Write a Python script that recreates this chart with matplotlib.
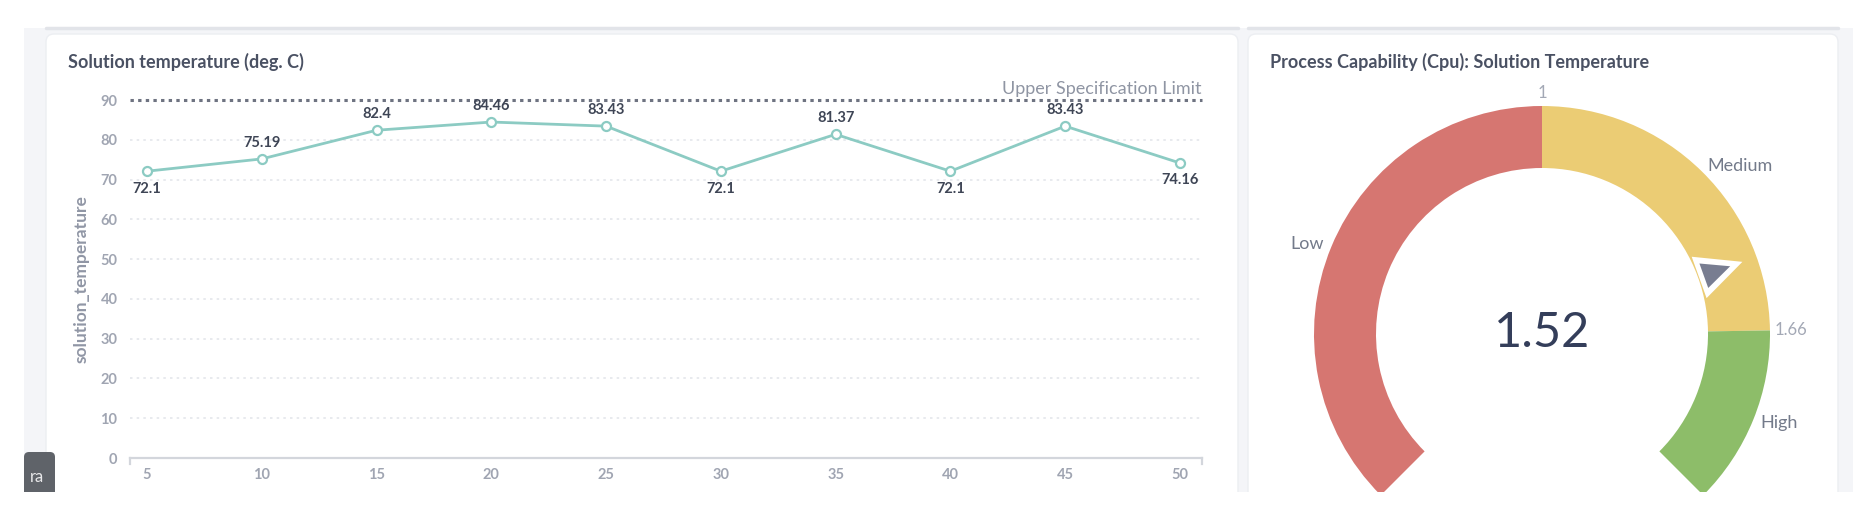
import numpy as np
import matplotlib
matplotlib.use("Agg")
import matplotlib.pyplot as plt
from matplotlib.patches import FancyBboxPatch, Wedge, Polygon, Rectangle

plt.rcParams['font.family'] = ['Lato', 'DejaVu Sans']

# ---------------- data ----------------
x_vals = [5, 10, 15, 20, 25, 30, 35, 40, 45, 50]
temps = [72.1, 75.19, 82.4, 84.46, 83.43, 72.1, 81.37, 72.1, 83.43, 74.16]
y_ticks = [0, 10, 20, 30, 40, 50, 60, 70, 80, 90]
usl = 90
usl_label = "Upper Specification Limit"
line_title = "Solution temperature (deg. C)"
y_label = "solution_temperature"

gauge_title = "Process Capability (Cpu): Solution Temperature"
gauge_value = 1.52
gauge_min, gauge_max = 0, 2
gauge_bounds = [0, 1, 1.66, 2]
gauge_names = ["Low", "Medium", "High"]
gauge_colors = ["#d67671", "#ebcc74", "#8dbd69"]

# ---------------- figure ----------------
W, H = 1870, 512
fig = plt.figure(figsize=(W / 100, H / 100), dpi=100)
fig.patch.set_facecolor("white")

bg = fig.add_axes([0, 0, 1, 1])
bg.set_xlim(0, W)
bg.set_ylim(H, 0)
bg.axis("off")

# page background and cards
bg.add_patch(Rectangle((24, 28), 1853 - 24, 492 - 28, fc="#f4f5f8", ec="none"))
bg.plot([46, 1238], [28, 28], color="#e2e4e9", lw=2.5, solid_capstyle="round")
bg.plot([1248, 1838], [28, 28], color="#e2e4e9", lw=2.5, solid_capstyle="round")
for (x0, x1) in [(46, 1238), (1248, 1838)]:
    bg.add_patch(FancyBboxPatch((x0, 34), x1 - x0, 492 - 34 + 20,
                                boxstyle="round,pad=0,rounding_size=8",
                                fc="white", ec="#eceef2", lw=1))
# small dark tab bottom-left
bg.add_patch(FancyBboxPatch((24, 452), 31, 50, boxstyle="round,pad=0,rounding_size=5",
                            fc="#5f6369", ec="none"))
bg.text(37, 477, "ra", color="#e8e8ea", fontsize=12, ha="center", va="center")
# white strip at bottom
bg.add_patch(Rectangle((0, 492), W, 20, fc="white", ec="none", zorder=5))

# titles
bg.text(68, 62, line_title, fontsize=13, fontweight="bold", color="#4a5163", va="center")
bg.text(1270, 62, gauge_title, fontsize=13, fontweight="bold", color="#4a5163", va="center")

# ---------------- line chart ----------------
line_c = "#8ccbc3"
ax = fig.add_axes([130 / W, (H - 458) / H, (1202 - 130) / W, (458 - 100) / H])
ax.patch.set_alpha(0)
ax.set_xlim(4.26, 50.96)
ax.set_ylim(0, 90)
for s in ["top", "right", "left"]:
    ax.spines[s].set_visible(False)
ax.spines["bottom"].set_color("#d3d6dc")
ax.spines["bottom"].set_linewidth(1.6)
ax.plot([0, 0], [0, -0.016], transform=ax.transAxes, color="#d3d6dc", lw=1.6, clip_on=False)
ax.plot([1, 1], [0, -0.016], transform=ax.transAxes, color="#d3d6dc", lw=1.6, clip_on=False)

ax.set_yticks(y_ticks)
ax.set_xticks(x_vals)
ax.set_xticklabels([str(v) for v in x_vals])
ax.tick_params(axis="both", length=0, labelsize=10.5, labelcolor="#a0a5b2")
ax.tick_params(axis="x", pad=7)
ax.tick_params(axis="y", pad=9)
for lab in ax.get_xticklabels() + ax.get_yticklabels():
    lab.set_fontweight("bold")

for yv in y_ticks[1:-1]:
    ax.axhline(yv, color="#e4e6eb", lw=1.2, ls=(0, (1.5, 2.5)), zorder=1)

ax.axhline(usl, color="#6e7381", lw=2.2, ls=(0, (1.1, 1.4)), zorder=3, clip_on=False)
ax.annotate(usl_label, xy=(1, usl), xycoords=("axes fraction", "data"),
            xytext=(0, 4.5), textcoords="offset points", ha="right", va="baseline",
            fontsize=13, color="#8f95a3")

ax.plot(x_vals, temps, color=line_c, lw=2, marker="o", ms=6.5, mfc="white",
        mec=line_c, mew=1.6, zorder=4, clip_on=False)

for i, (xv, yv) in enumerate(zip(x_vals, temps)):
    left = temps[i - 1] if i > 0 else np.inf
    right = temps[i + 1] if i < len(temps) - 1 else np.inf
    below = yv <= left and yv <= right
    if below:
        ax.annotate(f"{yv:g}", xy=(xv, yv), xytext=(0, -7.5), textcoords="offset points",
                    ha="center", va="top", fontsize=10.5, fontweight="bold", color="#3e4555", zorder=5)
    else:
        ax.annotate(f"{yv:g}", xy=(xv, yv), xytext=(0, 6.5), textcoords="offset points",
                    ha="center", va="bottom", fontsize=10.5, fontweight="bold", color="#3e4555", zorder=5)

ax.set_ylabel(y_label, fontsize=12.5, fontweight="bold", color="#9096a5")
ax.yaxis.set_label_coords((90 - 130) / 1072, 0.5)

# ---------------- gauge ----------------
cx, cy = 1542, 334
gx0, gx1, gy0, gy1 = 1248, 1838, 34, 492
gax = fig.add_axes([gx0 / W, (H - gy1) / H, (gx1 - gx0) / W, (gy1 - gy0) / H])
gax.set_xlim(gx0 - cx, gx1 - cx)
gax.set_ylim(cy - gy1, cy - gy0)
gax.axis("off")
gax.patch.set_alpha(0)

R_out, R_in = 228, 166


def ang(v):
    return 225 - (v - gauge_min) / (gauge_max - gauge_min) * 270


for lo, hi, c in zip(gauge_bounds[:-1], gauge_bounds[1:], gauge_colors):
    gax.add_patch(Wedge((0, 0), R_out, ang(hi), ang(lo), width=R_out - R_in, fc=c, ec="none"))

# segment names
for lo, hi, name in zip(gauge_bounds[:-1], gauge_bounds[1:], gauge_names):
    a = np.deg2rad(ang((lo + hi) / 2))
    r = R_out + 8
    ha = "right" if np.cos(a) < -0.1 else ("left" if np.cos(a) > 0.1 else "center")
    gax.text(r * np.cos(a), r * np.sin(a), name, ha=ha, va="center",
             fontsize=13, color="#737a8a")

# inner boundary values
for b in gauge_bounds[1:-1]:
    a = np.deg2rad(ang(b))
    r = R_out + 5
    ca, sa = np.cos(a), np.sin(a)
    ha = "right" if ca < -0.3 else ("left" if ca > 0.3 else "center")
    va = "bottom" if sa > 0.7 else ("top" if sa < -0.7 else "center")
    gax.text(r * ca, r * sa, f"{b:g}", ha=ha, va=va, fontsize=12, color="#a3a8b5")

# pointer
th = np.deg2rad(ang(gauge_value))


def local(pts):
    out = []
    for r, t in pts:
        out.append((r * np.cos(th) - t * np.sin(th), r * np.sin(th) + t * np.cos(th)))
    return out


gax.add_patch(Polygon(local([(R_in + 1, -22), (R_in + 47, 0), (R_in + 1, 22)]),
                      closed=True, fc="white", ec="none", zorder=5))
gax.add_patch(Polygon(local([(R_in + 6, -13), (R_in + 34, 0), (R_in + 6, 13)]),
                      closed=True, fc="#787d91", ec="none", zorder=6))

gax.text(0, cy - 347, f"{gauge_value:g}", ha="center", va="baseline",
         fontsize=35, color="#343e5a")

fig.savefig("out.png", dpi=100, facecolor="white")
